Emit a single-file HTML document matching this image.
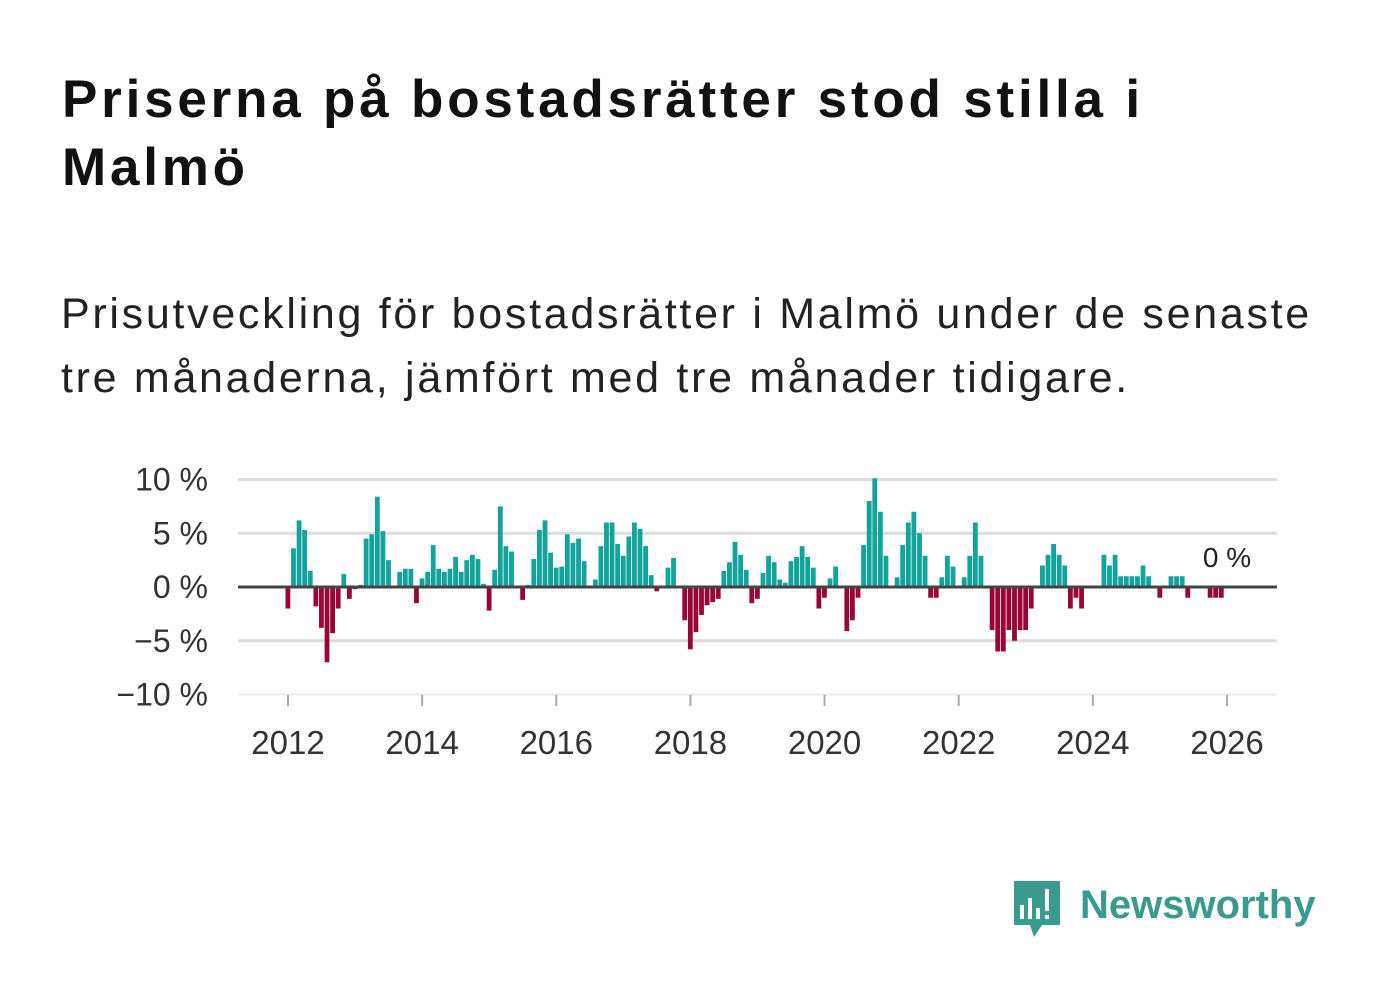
<!DOCTYPE html>
<html><head><meta charset="utf-8">
<style>
body{margin:0;background:#fff;width:1382px;height:999px;overflow:hidden;font-family:"Liberation Sans",sans-serif;position:relative}
#title{position:absolute;left:62px;top:66px;font-size:53px;letter-spacing:3.8px;font-weight:bold;line-height:68px;color:#111;white-space:nowrap}
#sub{position:absolute;left:61px;top:282px;font-size:43px;letter-spacing:2.7px;line-height:64px;color:#222;white-space:nowrap}
svg{position:absolute;left:0;top:0}
</style></head><body>
<div id="title">Priserna på bostadsrätter stod stilla i<br>Malmö</div>
<div id="sub">Prisutveckling för bostadsrätter i Malmö under de senaste<br>tre månaderna, jämfört med tre månader tidigare.</div>
<svg id="chart" width="1382" height="999"></svg>
<script>
const startYear = 2012;
const values = [-2,3.6,6.2,5.3,1.5,-1.8,-3.8,-7,-4.3,-2,1.2,-1.1,
-0.2,0.2,4.5,4.9,8.4,5.2,2.5,0,1.4,1.7,1.7,-1.5,
0.8,1.4,3.9,1.7,1.4,1.7,2.8,1.4,2.5,3.0,2.6,0.3,
-2.2,1.6,7.5,3.8,3.3,0,-1.2,0.2,2.6,5.3,6.2,3.2,
1.8,1.9,4.9,4.1,4.5,2.4,0,0.7,3.8,6.0,6.0,4.0,
2.9,4.7,6.0,5.4,3.8,1.1,-0.4,0.1,1.8,2.7,0,-3.1,
-5.8,-4.2,-2.6,-1.7,-1.4,-1.1,1.5,2.3,4.2,3.0,1.6,-1.5,
-1.1,1.3,2.9,2.3,0.7,0.4,2.4,2.8,3.8,2.8,1.8,-2.0,
-1.0,0.8,1.9,0,-4.1,-3.1,-1.0,3.9,8.0,10.1,7.0,2.9,
0,0.9,3.9,6.0,7.0,5.0,2.9,-1,-1,0.9,2.9,1.9,
0,0.9,2.9,6,2.9,0,-4,-6,-6,-4,-5,-4,
-4,-2,0,2,3,4,3,2,-2,-1,-2,0,
0,0,3,2,3,1,1,1,1,2,1,0,
-1,0,1,1,1,-1,0,0,0,-1,-1,-1];
const yTicks = [10,5,0,-5,-10];
const yTickLabels = ["10 %","5 %","0 %","\u22125 %","\u221210 %"];
const xTicks = [2012,2014,2016,2018,2020,2022,2024,2026];
const lastLabel = "0 %";

const svg = document.getElementById('chart');
const NS = 'http://www.w3.org/2000/svg';
const X0 = 288, PXY = 67.07, Y0 = 587, PXP = 10.75, LEFT = 238, RIGHT = 1277;
function xScale(t){ return X0 + (t - startYear) * PXY; }
function yScale(v){ return Y0 - v * PXP; }
function mk(tag, attrs){ const e = document.createElementNS(NS, tag); for (const k in attrs) e.setAttribute(k, attrs[k]); svg.appendChild(e); return e; }

yTicks.forEach((t, i) => {
  const y = yScale(t);
  if (t !== 0) {
    const g = mk('line', {x1: LEFT, x2: RIGHT, y1: y, y2: y, stroke: t === -10 ? '#e6e6e6' : '#dcdcdc', 'stroke-width': t === -10 ? 1.5 : 3});
    
    
  }
  const l = mk('text', {x: 208, y: y + 11, 'text-anchor': 'end', 'font-size': 32, fill: '#333', 'font-family': 'Liberation Sans, sans-serif'});
  l.textContent = yTickLabels[i];
  
  
});
xTicks.forEach(t => {
  const x = xScale(t);
  const tk = mk('line', {x1: x, x2: x, y1: 695, y2: 706, stroke: '#aaa', 'stroke-width': 2});
  
  
  const l = mk('text', {x: x, y: 754, 'text-anchor': 'middle', 'font-size': 33, fill: '#333', 'font-family': 'Liberation Sans, sans-serif'});
  l.textContent = String(t);
  
  
});
values.forEach((v, i) => {
  const x = xScale(startYear + i / 12);
  const y1 = yScale(Math.max(v, 0)), y2 = yScale(Math.min(v, 0));
  const r = mk('rect', {x: x - 2.5, y: y1, width: 4.8, height: Math.max(y2 - y1, 0), fill: v >= 0 ? '#12a39a' : '#990538'});
  
  
});
const z = mk('line', {x1: LEFT, x2: RIGHT, y1: Y0, y2: Y0, stroke: '#444', 'stroke-width': 3});


const ll = mk('text', {x: 1227, y: yScale(values[values.length - 1]) - 31, 'text-anchor': 'middle', 'font-size': 28, fill: '#222', 'font-family': 'Liberation Sans, sans-serif'});
ll.textContent = lastLabel;


</script>
<svg width="1382" height="999">
  <path d="M1014 881 h46 v44 h-18 l-8 12 l-4 -12 h-16 z" fill="#3a9a8e"/>
  <rect x="1020" y="905" width="4" height="14" fill="#fff"/>
  <rect x="1028" y="898" width="4" height="21" fill="#fff"/>
  <rect x="1036" y="908" width="4" height="11" fill="#fff"/>
  <rect x="1045" y="889" width="4" height="22" fill="#fff"/>
  <rect x="1045" y="915" width="4" height="4" fill="#fff"/>
  <text x="1080" y="918" font-size="40" font-weight="bold" fill="#3a9a8e" font-family="Liberation Sans, sans-serif">Newsworthy</text>
</svg>
</body></html>
